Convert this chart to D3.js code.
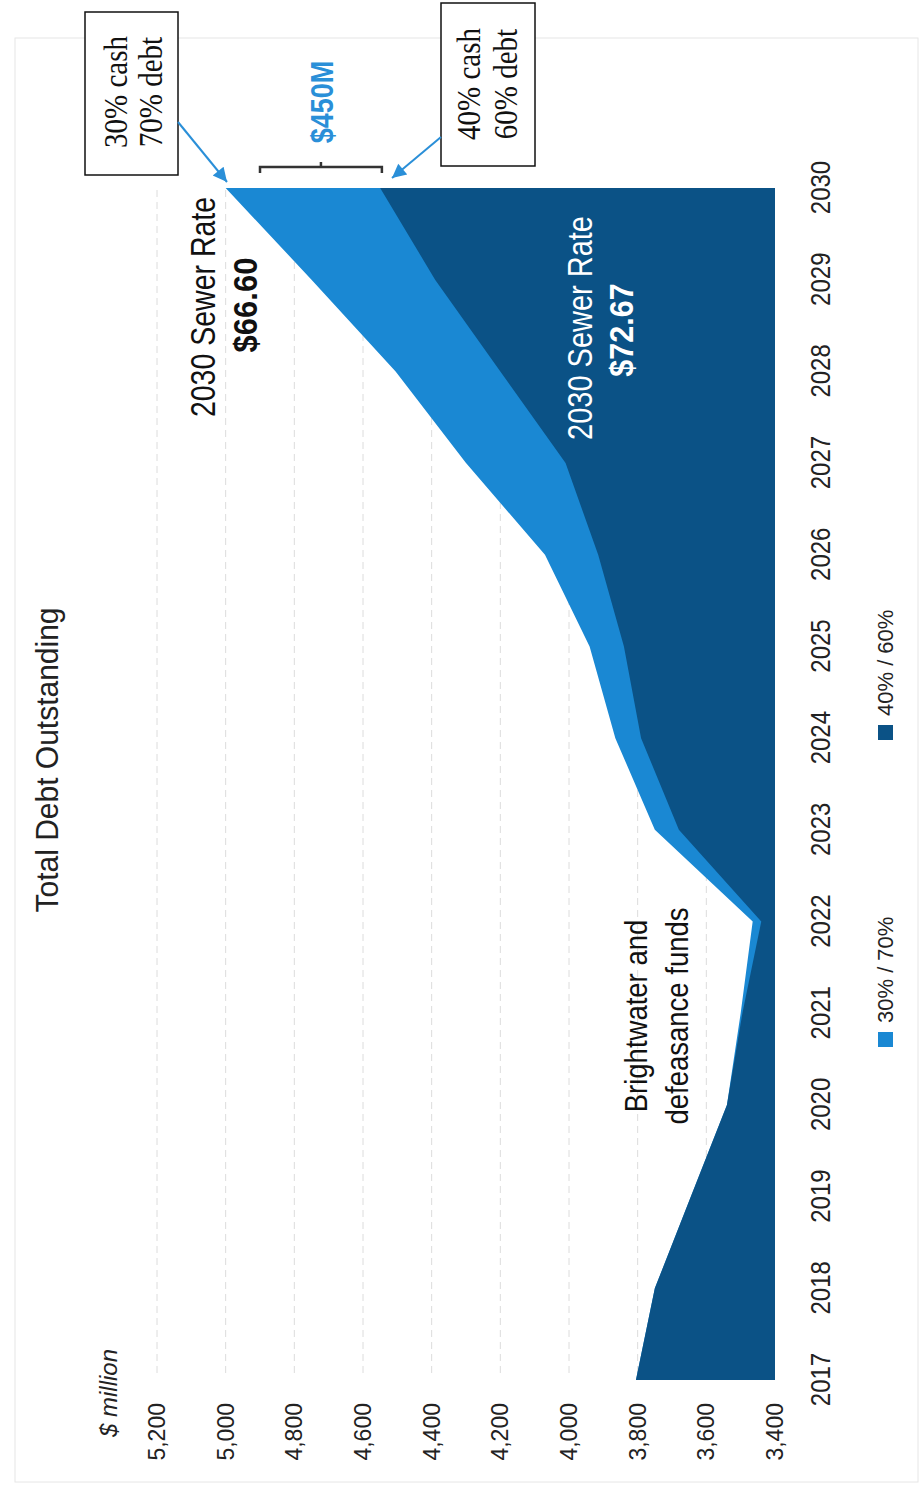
<!DOCTYPE html>
<html>
<head>
<meta charset="utf-8">
<script src="https://cdn.jsdelivr.net/npm/d3@7"></script>
<style>
  body { margin: 0; background: #fff; }
  text { font-family: "Liberation Sans", Arial, sans-serif; }
</style>
</head>
<body>
<div id="chart"></div>
<script>
// data ($ million)
const years = [2017, 2018, 2019, 2020, 2021, 2022, 2023, 2024, 2025, 2026, 2027, 2028, 2029, 2030];
const debt3070 = [3805, 3750, 3645, 3540, 3500, 3465, 3750, 3865, 3940, 4070, 4300, 4505, 4750, 5000];
const debt4060 = [3805, 3750, 3645, 3540, 3495, 3440, 3680, 3790, 3840, 3915, 4010, 4200, 4390, 4550];
const yTicks = [3400, 3600, 3800, 4000, 4200, 4400, 4600, 4800, 5000, 5200];
const seriesNames = ["30% / 70%", "40% / 60%"];

const lightBlue = "#1a88d3",
    darkBlue = "#0b5286",
    arrowBlue = "#2a8fd8";

// the chart is drawn flat (1485 x 922) and then turned a quarter turn to the left
const W = 1485, H = 922;

const svg = d3.select("#chart")
  .append("svg")
    .attr("width", H)
    .attr("height", W);

const g = svg.append("g")
    .attr("transform", `translate(0, ${W}) rotate(-90)`);

const x = d3.scaleLinear().domain([2017, 2030]).range([105, 1297]);
const y = d3.scaleLinear().domain([3400, 5200]).range([775, 157]);

// faint frame round the whole chart
g.append("rect")
    .attr("x", 3).attr("y", 15)
    .attr("width", 1444).attr("height", 903)
    .attr("fill", "none")
    .attr("stroke", "#e6e6e6");

// dashed gridlines
g.selectAll(".grid")
  .data(yTicks.slice(1))
  .join("line")
    .attr("x1", x(2017) + 7).attr("x2", x(2030))
    .attr("y1", d => y(d)).attr("y2", d => y(d))
    .attr("stroke", "#dcdcdc")
    .attr("stroke-dasharray", "7,5");

// areas: 30/70 behind, 40/60 in front
const area = vals => d3.area()
    .x((d, i) => x(years[i]))
    .y0(y(3400))
    .y1(d => y(d))(vals);

g.append("path").attr("d", area(debt3070)).attr("fill", lightBlue);
g.append("path").attr("d", area(debt4060)).attr("fill", darkBlue);

// axes
const yAxis = g.append("g")
    .attr("transform", `translate(${x(2017)}, 0)`)
    .call(d3.axisLeft(y).tickValues(yTicks).tickFormat(d3.format(",")).tickSize(0).tickPadding(23));
yAxis.select(".domain").remove();
yAxis.selectAll("text")
    .style("font-size", "23px")
    .style("font-family", "'Liberation Sans', Arial, sans-serif")
    .attr("fill", "#222");

const xAxis = g.append("g")
    .attr("transform", `translate(0, ${y(3400)})`)
    .call(d3.axisBottom(x).tickValues(years).tickFormat(d3.format("d")).tickSize(0));
xAxis.select(".domain").remove();
xAxis.selectAll("text")
    .attr("y", 0).attr("dy", 0)
    .attr("transform", "translate(0, 55) scale(1, 1.18)")
    .style("font-size", "24px")
    .style("font-family", "'Liberation Sans', Arial, sans-serif")
    .attr("fill", "#222");

// text helper
function label(ox, oy, str, o) {
  return g.append("text")
      .attr("transform", `translate(${ox}, ${oy}) scale(1, ${o.stretch || 1})`)
      .attr("text-anchor", o.anchor || "middle")
      .attr("fill", o.fill || "#111")
      .style("font-size", o.size + "px")
      .style("font-weight", o.weight || "normal")
      .style("font-style", o.italic ? "italic" : "normal")
      .style("font-family", o.family || "'Liberation Sans', Arial, sans-serif")
      .text(str);
}

label(725, 58, "Total Debt Outstanding", {size: 30, stretch: 1.05, fill: "#222"});
label(48, 117, "$ million", {size: 24, anchor: "start", italic: true, fill: "#222"});

label(1178, 215, "2030 Sewer Rate", {size: 28.5, stretch: 1.2});
label(1180, 257, "$66.60", {size: 31, stretch: 1.1, weight: "bold"});

label(1157, 592, "2030 Sewer Rate", {size: 29, stretch: 1.2, fill: "#fff"});
label(1155, 633, "$72.67", {size: 30.5, stretch: 1.1, weight: "bold", fill: "#fff"});

label(469, 647, "Brightwater and", {size: 27.5, stretch: 1.15});
label(469, 688, "defeasance funds", {size: 27.5, stretch: 1.15});

label(1383, 333, "$450M", {size: 27, stretch: 1.15, weight: "bold", fill: arrowBlue,
  family: "'Liberation Sans Narrow', 'Arial Narrow', 'Liberation Sans', sans-serif"});

// bracket over the gap at 2030
const bx = 1318, b1 = y(4900), b2 = y(4545);
g.append("path")
    .attr("d", `M${bx - 6},${b1} L${bx},${b1} L${bx},${b2} L${bx - 6},${b2} M${bx},${(b1 + b2) / 2} L${bx + 5},${(b1 + b2) / 2}`)
    .attr("fill", "none")
    .attr("stroke", "#333")
    .attr("stroke-width", 2.5);

// boxes with serif text
const serif = "'Liberation Serif', 'Times New Roman', serif";
function box(x0, y0, w, h, lines, cx, base, gap) {
  g.append("rect")
      .attr("x", x0).attr("y", y0).attr("width", w).attr("height", h)
      .attr("fill", "#fff").attr("stroke", "#111").attr("stroke-width", 1.5);
  lines.forEach((t, i) => label(cx, base + i * gap, t, {size: 29, stretch: 1.15, family: serif}));
}
box(1310, 85, 163, 93, ["30% cash", "70% debt"], 1393, 127, 35);
box(1319, 441, 163, 94, ["40% cash", "60% debt"], 1401, 480, 37);

// arrows
svg.append("defs").append("marker")
    .attr("id", "head")
    .attr("viewBox", "0 0 10 10")
    .attr("refX", 10).attr("refY", 5)
    .attr("markerUnits", "userSpaceOnUse")
    .attr("markerWidth", 17).attr("markerHeight", 14)
    .attr("orient", "auto")
  .append("path")
    .attr("d", "M0,0 L10,5 L0,10 z")
    .attr("fill", arrowBlue);

[[1363, 178, 1303, 227], [1348, 441, 1307, 392]].forEach(a => {
  g.append("line")
      .attr("x1", a[0]).attr("y1", a[1]).attr("x2", a[2]).attr("y2", a[3])
      .attr("stroke", arrowBlue)
      .attr("stroke-width", 2)
      .attr("marker-end", "url(#head)");
});

// legend
const legend = g.selectAll(".legend")
  .data(seriesNames)
  .join("g")
    .attr("transform", (d, i) => `translate(${[438, 745][i]}, 878)`);
legend.append("rect")
    .attr("width", 15).attr("height", 15)
    .attr("fill", (d, i) => [lightBlue, darkBlue][i]);
legend.append("text")
    .attr("x", 24).attr("y", 15)
    .style("font-size", "22px")
    .attr("fill", "#222")
    .text(d => d);
</script>
</body>
</html>
